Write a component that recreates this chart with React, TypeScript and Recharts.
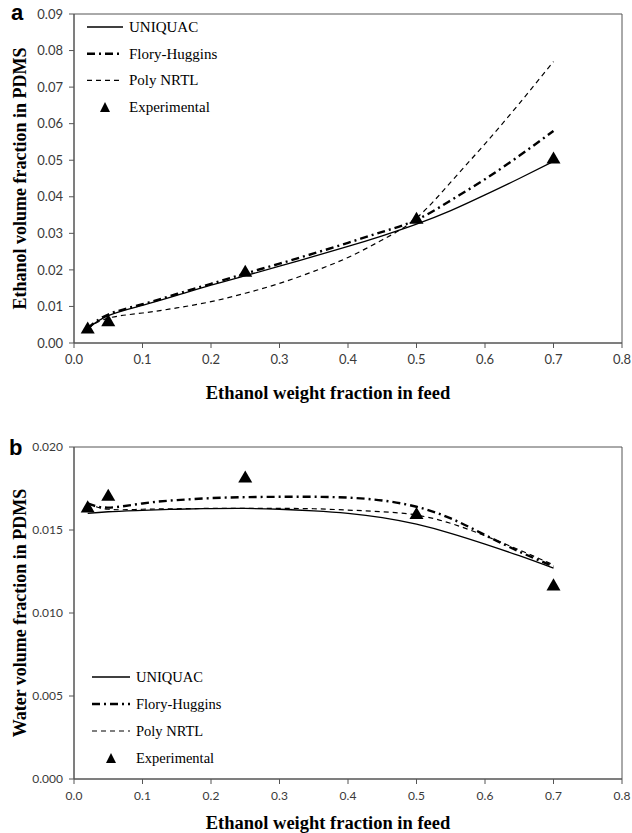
import { ComposedChart, Line, Scatter, XAxis, YAxis, ZAxis, ReferenceArea } from "recharts"

// model curves are sampled at these feed fractions
const modelFractions = [0.02, 0.05, 0.1, 0.15, 0.2, 0.25, 0.3, 0.35, 0.4, 0.45, 0.5, 0.55, 0.6, 0.65, 0.7]

// panel a - ethanol volume fraction in PDMS
const ethanolUniquac = [0.004, 0.0075, 0.0103, 0.013, 0.0158, 0.0184, 0.021, 0.0237, 0.0264, 0.0293, 0.0325, 0.0362, 0.0405, 0.045, 0.0497]
const ethanolFlory = [0.004, 0.0078, 0.0106, 0.0134, 0.0162, 0.019, 0.0217, 0.0245, 0.0274, 0.0304, 0.0337, 0.039, 0.0448, 0.0512, 0.058]
const ethanolNrtl = [0.004, 0.0068, 0.0082, 0.0096, 0.0113, 0.0136, 0.0163, 0.0196, 0.0234, 0.0282, 0.0342, 0.044, 0.0545, 0.0655, 0.077]

// panel b - water volume fraction in PDMS
const waterUniquac = [0.016, 0.0161, 0.01618, 0.01625, 0.01629, 0.0163, 0.01625, 0.01615, 0.016, 0.01575, 0.01535, 0.0148, 0.01415, 0.01345, 0.0127]
const waterFlory = [0.0166, 0.01635, 0.0166, 0.0168, 0.01692, 0.01698, 0.017, 0.017, 0.01695, 0.01678, 0.0164, 0.0157, 0.0147, 0.0137, 0.0128]
const waterNrtl = [0.0166, 0.01625, 0.01625, 0.01628, 0.0163, 0.0163, 0.0163, 0.01628, 0.0162, 0.0161, 0.0159, 0.0154, 0.01465, 0.0138, 0.0129]

// experimental points
const expFractions = [0.02, 0.05, 0.25, 0.5, 0.7]
const ethanolExperimental = [0.0037, 0.0057, 0.0192, 0.0337, 0.0502]
const waterExperimental = [0.0163, 0.017, 0.0181, 0.0159, 0.0116]

const xTicks = [0, 0.1, 0.2, 0.3, 0.4, 0.5, 0.6, 0.7, 0.8]
const ethanolTicks = [0, 0.01, 0.02, 0.03, 0.04, 0.05, 0.06, 0.07, 0.08, 0.09]
const waterTicks = [0, 0.005, 0.01, 0.015, 0.02]

const legendNames = ["UNIQUAC", "Flory-Huggins", "Poly NRTL", "Experimental"]

const serif = "'Liberation Serif', 'Times New Roman', serif"
const sans = "Lato, 'Liberation Sans', sans-serif"

const lineStyles = [
    { strokeWidth: 1.3, strokeDasharray: undefined },
    { strokeWidth: 2.4, strokeDasharray: "8 4 2 4" },
    { strokeWidth: 1.2, strokeDasharray: "5 4" },
]

const toPoints = (xs: number[], ys: number[]) => xs.map((x, i) => ({ x, y: ys[i] }))

function LegendBox({ left, top, gap, fontSize, lineLen }: { left: number; top: number; gap: number; fontSize: number; lineLen: number }) {
    return (
        <svg style={{ position: "absolute", left, top }} width={200} height={gap * 4 + 10}>
            {legendNames.map((name, i) => {
                const y = 8 + i * gap
                return (
                    <g key={name}>
                        {i < 3 ? (
                            <line x1={2} x2={2 + lineLen} y1={y} y2={y} stroke="#000"
                                strokeWidth={lineStyles[i].strokeWidth} strokeDasharray={lineStyles[i].strokeDasharray} />
                        ) : (
                            <polygon points={`${2 + lineLen / 2 - 5},${y + 5} ${2 + lineLen / 2 + 5},${y + 5} ${2 + lineLen / 2},${y - 5}`} fill="#000" />
                        )}
                        <text x={lineLen + 8} y={y} dominantBaseline="central" fontFamily={serif} fontSize={fontSize} fill="#000">{name}</text>
                    </g>
                )
            })}
        </svg>
    )
}

interface PanelProps {
    height: number
    marginTop: number
    xAxisHeight: number
    uniquac: number[]
    flory: number[]
    nrtl: number[]
    experimental: number[]
    yTicks: number[]
    yDigits: number
    yTitle: string
    tickFont: number
    titleGap: number
    yTitleFont: number
}

function Panel(p: PanelProps) {
    const yMax = p.yTicks[p.yTicks.length - 1]
    const tick = { fill: "#3a3a3a", fontSize: p.tickFont, fontFamily: sans }
    return (
        <ComposedChart width={632} height={p.height} margin={{ top: p.marginTop, right: 10, left: 0, bottom: 0 }}>
            <XAxis
                type="number"
                dataKey="x"
                domain={[0, 0.8]}
                ticks={xTicks}
                tickFormatter={(v: number) => v.toFixed(1)}
                stroke="#555"
                tick={tick}
                tickSize={5}
                tickMargin={7}
                height={p.xAxisHeight}
                allowDataOverflow
                label={{
                    content: (props: any) => {
                        const vb = props.viewBox
                        return (
                            <text x={vb.x + vb.width / 2 - 20} y={vb.y + p.titleGap} textAnchor="middle" dominantBaseline="central"
                                fontFamily={serif} fontWeight="bold" fontSize={18.5} fill="#000">
                                Ethanol weight fraction in feed
                            </text>
                        )
                    },
                }}
            />
            <YAxis
                type="number"
                dataKey="y"
                domain={[0, yMax]}
                ticks={p.yTicks}
                tickFormatter={(v: number) => v.toFixed(p.yDigits)}
                stroke="#555"
                tick={tick}
                tickSize={5}
                tickMargin={6}
                width={74}
                allowDataOverflow
                label={{
                    content: (props: any) => {
                        const vb = props.viewBox
                        const cx = vb.x + 20
                        const cy = vb.y + vb.height / 2
                        return (
                            <text x={cx} y={cy} transform={`rotate(-90 ${cx} ${cy})`} textAnchor="middle" dominantBaseline="central"
                                fontFamily={serif} fontWeight="bold" fontSize={p.yTitleFont} fill="#000">
                                {p.yTitle}
                            </text>
                        )
                    },
                }}
            />
            <ZAxis range={[85, 85]} />
            <ReferenceArea x1={0} x2={0.8} y1={0} y2={yMax} fill="none" stroke="#555" strokeWidth={1} />
            <Line data={toPoints(modelFractions, p.uniquac)} dataKey="y" type="natural" dot={false} stroke="#000"
                strokeWidth={lineStyles[0].strokeWidth} isAnimationActive={false} />
            <Line data={toPoints(modelFractions, p.flory)} dataKey="y" type="natural" dot={false} stroke="#000"
                strokeWidth={lineStyles[1].strokeWidth} strokeDasharray={lineStyles[1].strokeDasharray} isAnimationActive={false} />
            <Line data={toPoints(modelFractions, p.nrtl)} dataKey="y" type="natural" dot={false} stroke="#000"
                strokeWidth={lineStyles[2].strokeWidth} strokeDasharray={lineStyles[2].strokeDasharray} isAnimationActive={false} />
            <Scatter data={toPoints(expFractions, p.experimental)} dataKey="y" shape="triangle" fill="#000" isAnimationActive={false} />
        </ComposedChart>
    )
}

export default function App() {
    return (
        <div style={{ position: "absolute", left: 0, top: 0, width: 632, height: 833, background: "#fff" }}>
            <div style={{ position: "absolute", left: 0, top: 0 }}>
                <Panel height={415} marginTop={14} xAxisHeight={72} uniquac={ethanolUniquac} flory={ethanolFlory} nrtl={ethanolNrtl}
                    experimental={ethanolExperimental} yTicks={ethanolTicks} yDigits={2} yTitle="Ethanol volume fraction in PDMS"
                    tickFont={13} titleGap={50} yTitleFont={18} />
                <LegendBox left={85} top={19} gap={26.7} fontSize={15} lineLen={36} />
                <div style={{ position: "absolute", left: 11, top: 0, fontFamily: "'Liberation Sans', Arial, sans-serif", fontWeight: "bold", fontSize: 22 }}>a</div>
            </div>
            <div style={{ position: "absolute", left: 0, top: 415 }}>
                <Panel height={418} marginTop={32} xAxisHeight={54} uniquac={waterUniquac} flory={waterFlory} nrtl={waterNrtl}
                    experimental={waterExperimental} yTicks={waterTicks} yDigits={3} yTitle="Water volume fraction in PDMS"
                    tickFont={12} titleGap={44} yTitleFont={18} />
                <LegendBox left={90} top={254} gap={27} fontSize={14.5} lineLen={38} />
                <div style={{ position: "absolute", left: 9, top: 20, fontFamily: "'Liberation Sans', Arial, sans-serif", fontWeight: "bold", fontSize: 22 }}>b</div>
            </div>
        </div>
    )
}
